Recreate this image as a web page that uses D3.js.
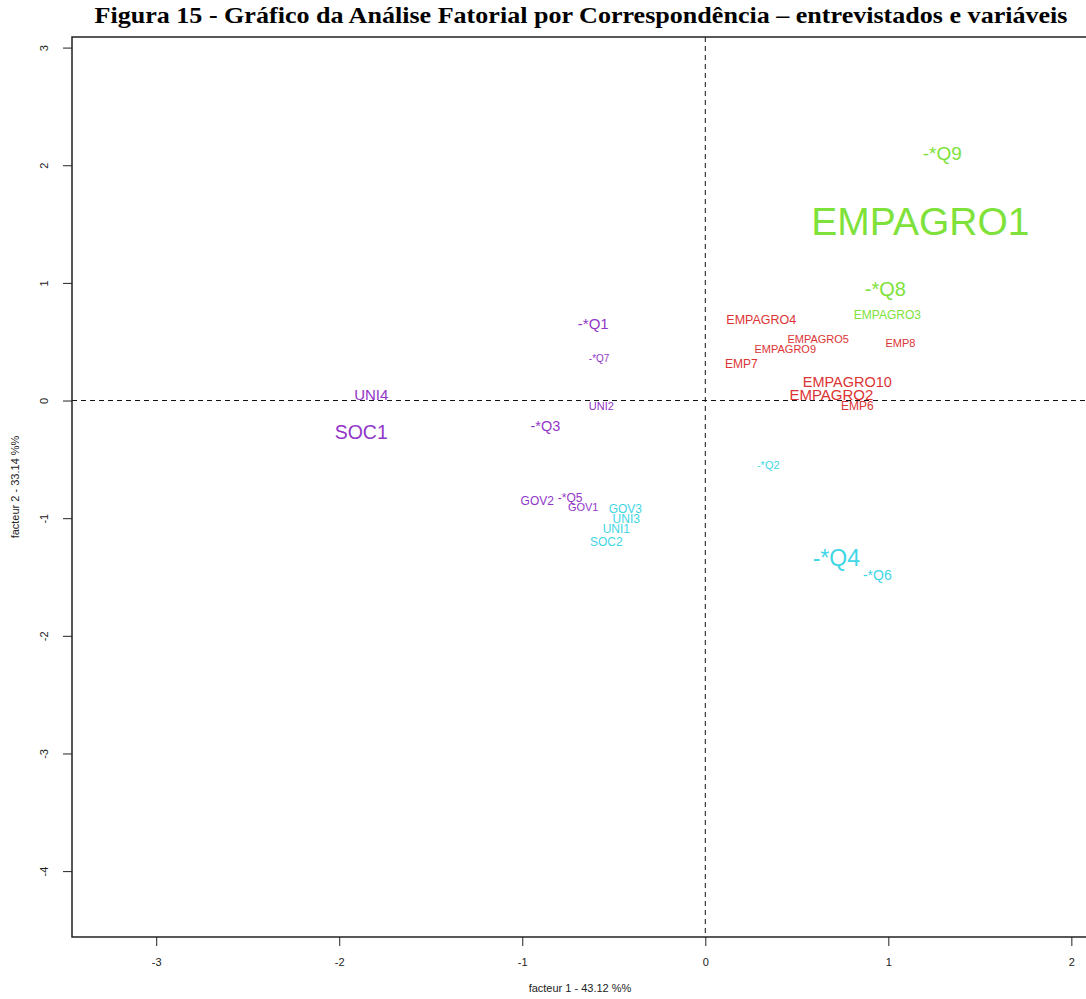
<!DOCTYPE html>
<html>
<head>
<meta charset="utf-8">
<script src="https://cdn.jsdelivr.net/npm/d3@7"></script>
<style>
  body { margin: 0; background: #fff; }
  svg { display: block; }
</style>
</head>
<body>
<div id="chart"></div>
<script>
// coordinates (facteur 1, facteur 2) and label size (cex)
var purpleLabels = ["-*Q1", "-*Q7", "UNI4", "UNI2", "SOC1", "-*Q3", "GOV2", "-*Q5", "GOV1"];
var purpleF1 = [-0.612, -0.58, -1.825, -0.568, -1.88, -0.874, -0.918, -0.738, -0.667];
var purpleF2 = [0.655, 0.357, 0.05, -0.05, -0.272, -0.213, -0.85, -0.825, -0.91];
var purpleCex = [1.5, 1.0, 1.5, 1.1, 1.95, 1.45, 1.2, 1.2, 1.1];

var redLabels = ["EMPAGRO4", "EMPAGRO5", "EMPAGRO9", "EMP7", "EMP8", "EMPAGRO10", "EMPAGRO2", "EMP6"];
var redF1 = [0.306, 0.617, 0.437, 0.197, 1.066, 0.776, 0.689, 0.831];
var redF2 = [0.689, 0.519, 0.434, 0.315, 0.485, 0.162, 0.051, -0.043];
var redCex = [1.25, 1.1, 1.1, 1.2, 1.1, 1.45, 1.5, 1.2];

var greenLabels = ["-*Q9", "EMPAGRO1", "-*Q8", "EMPAGRO3"];
var greenF1 = [1.295, 1.175, 0.984, 0.995];
var greenF2 = [2.10, 1.522, 0.952, 0.731];
var greenCex = [1.9, 3.9, 2.0, 1.2];

var cyanLabels = ["-*Q2", "GOV3", "UNI3", "UNI1", "SOC2", "-*Q4", "-*Q6"];
var cyanF1 = [0.344, -0.437, -0.432, -0.486, -0.541, 0.716, 0.94];
var cyanF2 = [-0.553, -0.918, -1.003, -1.088, -1.199, -1.335, -1.48];
var cyanCex = [1.1, 1.2, 1.2, 1.2, 1.2, 2.3, 1.4];

var xTicks = [-3, -2, -1, 0, 1, 2];
var yTicks = [3, 2, 1, 0, -1, -2, -3, -4];

(function() {
var groups = [
  {labels: purpleLabels, f1: purpleF1, f2: purpleF2, cex: purpleCex, color: "#9236c8"},
  {labels: redLabels, f1: redF1, f2: redF2, cex: redCex, color: "#dc3434"},
  {labels: greenLabels, f1: greenF1, f2: greenF2, cex: greenCex, color: "#7ee23a"},
  {labels: cyanLabels, f1: cyanF1, f2: cyanF2, cex: cyanCex, color: "#3fd6e6"}
];

var W = 1086, H = 999;
var mLeft = 72, mTop = 37, mBottom = 937, mRight = 1086;
var axisFont = "'Liberation Sans Narrow', 'Liberation Sans', Arial, sans-serif";
var fmt = function(d) { return String(d); };   // plain hyphen minus, like R

var svg = d3.select("#chart").append("svg")
    .attr("width", W)
    .attr("height", H);

var x = d3.scaleLinear().domain([-3.46, 2.08]).range([mLeft, mRight]);
var y = d3.scaleLinear().domain([-4.56, 3.09]).range([mBottom, mTop]);

// title
svg.append("text")
    .attr("x", 581).attr("y", 23)
    .attr("text-anchor", "middle")
    .attr("font-family", "'Liberation Serif', 'Times New Roman', serif")
    .attr("font-weight", "bold")
    .attr("font-size", 23)
    .attr("textLength", 973)
    .attr("lengthAdjust", "spacingAndGlyphs")
    .text("Figura 15 - Gráfico da Análise Fatorial por Correspondência – entrevistados e variáveis");

// dashed reference lines at zero
svg.append("line")
    .attr("x1", x(0)).attr("x2", x(0))
    .attr("y1", mTop).attr("y2", mBottom)
    .attr("stroke", "#111").attr("stroke-dasharray", "5,4");
svg.append("line")
    .attr("x1", mLeft).attr("x2", mRight)
    .attr("y1", y(0)).attr("y2", y(0))
    .attr("stroke", "#111").attr("stroke-dasharray", "5,4");

// frame: top, left, bottom
svg.append("path")
    .attr("d", "M" + mRight + "," + mTop + "H" + mLeft + "V" + mBottom + "H" + mRight)
    .attr("fill", "none")
    .attr("stroke", "#222")
    .attr("stroke-width", 1.5);

// axes
var xAxis = svg.append("g")
    .attr("transform", "translate(0," + mBottom + ")")
    .call(d3.axisBottom(x).tickValues(xTicks).tickSize(9).tickPadding(12).tickFormat(fmt));
var yAxis = svg.append("g")
    .attr("transform", "translate(" + mLeft + ",0)")
    .call(d3.axisLeft(y).tickValues(yTicks).tickSize(9).tickFormat(fmt));

[xAxis, yAxis].forEach(function(a) {
  a.select(".domain").remove();
  a.selectAll("line").attr("stroke", "#222");
  a.selectAll("text")
      .attr("font-family", axisFont)
      .attr("font-size", 11)
      .attr("fill", "#222");
});
yAxis.selectAll(".tick text")
    .attr("x", null).attr("dy", null)
    .attr("text-anchor", "middle")
    .attr("transform", "translate(-24,0) rotate(-90)");

// axis titles
svg.append("text")
    .attr("x", 580).attr("y", 992)
    .attr("text-anchor", "middle")
    .attr("font-family", axisFont)
    .attr("font-size", 11)
    .attr("fill", "#222")
    .text("facteur 1 - 43.12 %%");
svg.append("text")
    .attr("transform", "translate(19," + ((mTop + mBottom) / 2) + ") rotate(-90)")
    .attr("text-anchor", "middle")
    .attr("font-family", axisFont)
    .attr("font-size", 11)
    .attr("fill", "#222")
    .text("facteur 2 - 33.14 %%");

// point labels
groups.forEach(function(gr) {
  var rows = gr.labels.map(function(l, i) {
    return {label: l, f1: gr.f1[i], f2: gr.f2[i], cex: gr.cex[i]};
  });
  svg.append("g").selectAll("text")
    .data(rows)
    .enter().append("text")
      .attr("x", function(d) { return x(d.f1); })
      .attr("y", function(d) { return y(d.f2); })
      .attr("dy", "0.35em")
      .attr("text-anchor", "middle")
      .attr("font-family", "'Liberation Sans', Arial, sans-serif")
      .attr("font-size", function(d) { return 10 * d.cex; })
      .attr("fill", gr.color)
      .text(function(d) { return d.label; });
});
})();
</script>
</body>
</html>
